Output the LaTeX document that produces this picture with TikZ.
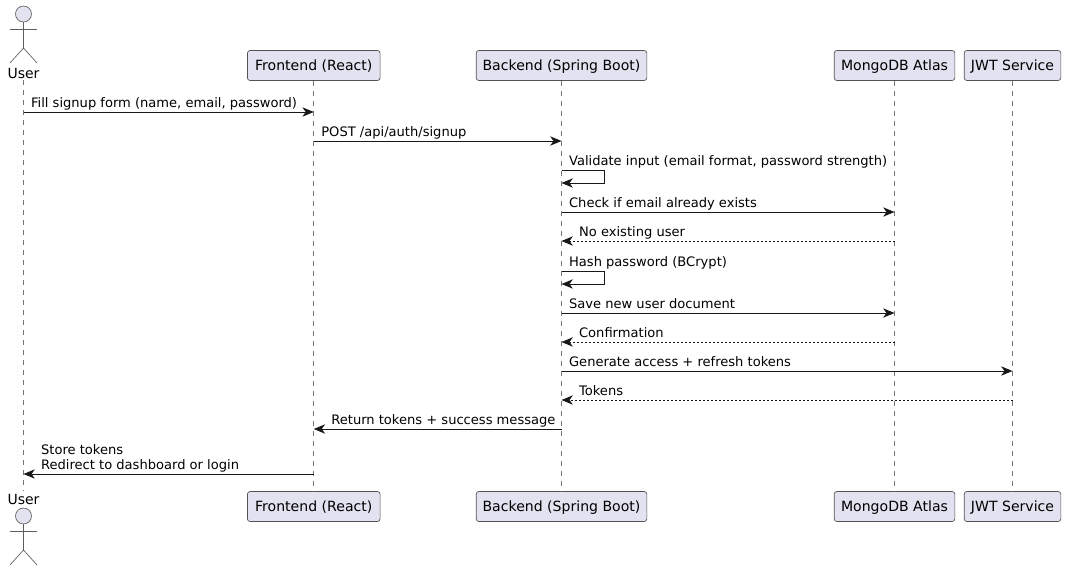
\documentclass[tikz,border=0pt]{standalone}
\usepackage{fontspec}
\setmainfont{DejaVu Sans}
\usetikzlibrary{arrows.meta}
\definecolor{partfill}{HTML}{E2E2F0}
\definecolor{partline}{HTML}{181818}
\tikzset{
  part/.style={draw=partline!75!white,fill=partfill,line width=.5pt,rounded corners=2pt,minimum height=22.5pt,inner sep=0pt,text height=8pt,text depth=1pt,font=\fontsize{10.55pt}{12pt}\selectfont},
  actorlabel/.style={inner sep=0pt,font=\fontsize{10.5pt}{12pt}\selectfont},
  life/.style={draw=partline!60!white,line width=.5pt,dash pattern=on 3.75pt off 3.75pt},
  msg/.style={draw=partline,line width=.7pt,-{Stealth[length=8.5pt,width=7pt,inset=2.5pt]}},
  reply/.style={msg,dash pattern=on 1.5pt off 1.5pt},
  msglabel/.style={anchor=base west,inner sep=0pt,xshift=5.5pt,font=\fontsize{9.8pt}{11.25pt}\selectfont},
  stick/.style={draw=partline!70!white,line width=.5pt}
}
\begin{document}
\begin{tikzpicture}[x=.75pt,y=-.75pt]
	\useasboundingbox (0,0) rectangle (1066,571);
	% lifelines
	\coordinate (usertop) at (23.5,80);
	\coordinate (userbot) at (23.5,491);
	\node[part,minimum width=99.5pt] (fronttop) at (313.75,65.5) {Frontend (React)};
	\node[part,minimum width=99.5pt] (frontbot) at (313.75,506.5) {Frontend (React)};
	\node[part,minimum width=128pt] (backtop) at (561.5,65.5) {Backend (Spring Boot)};
	\node[part,minimum width=128pt] (backbot) at (561.5,506.5) {Backend (Spring Boot)};
	\node[part,minimum width=90.5pt] (mongotop) at (894.5,65.5) {MongoDB Atlas};
	\node[part,minimum width=90.5pt] (mongobot) at (894.5,506.5) {MongoDB Atlas};
	\node[part,minimum width=72.5pt] (jwttop) at (1012.5,65.5) {JWT Service};
	\node[part,minimum width=72.5pt] (jwtbot) at (1012.5,506.5) {JWT Service};
	\draw[life] (usertop) -- (userbot);
	\draw[life] (fronttop) -- (frontbot);
	\draw[life] (backtop) -- (backbot);
	\draw[life] (mongotop) -- (mongobot);
	\draw[life] (jwttop) -- (jwtbot);
	% actors
	\foreach \ya/\yl in {14/73,516/499}{
		\draw[stick,fill=partfill] (23.5,\ya) circle (6pt);
		\draw[stick] (23.5,\ya+8) -- (23.5,\ya+34) (10,\ya+15) -- (37,\ya+15);
		\draw[stick] (10,\ya+49) -- (23.5,\ya+34) -- (37,\ya+49);
		\node[actorlabel] (user\ya) at (23.5,\yl) {User};
	}
	% rows
	\coordinate (r1) at (0,112);
	\coordinate (r2) at (0,141);
	\coordinate (r3) at (0,170);
	\coordinate (r3b) at (0,183);
	\coordinate (r4) at (0,212);
	\coordinate (r5) at (0,241);
	\coordinate (r6) at (0,271);
	\coordinate (r6b) at (0,284);
	\coordinate (r7) at (0,313);
	\coordinate (r8) at (0,342);
	\coordinate (r9) at (0,371);
	\coordinate (r10) at (0,400);
	\coordinate (r11) at (0,429);
	\coordinate (r12) at (0,474);
	% messages
	\draw[msg] (usertop |- r1) -- (fronttop |- r1);
	\node[msglabel] (t1) at ([yshift=3.4pt]usertop |- r1) {Fill signup form (name, email, password)};
	\draw[msg] (fronttop |- r2) -- (backtop |- r2);
	\node[msglabel] (t2) at ([yshift=3.4pt]fronttop |- r2) {POST /api/auth/signup};
	\draw[msg] (backtop |- r3) -| ([xshift=32pt]backtop |- r3b) -- (backtop |- r3b);
	\node[msglabel] (t3) at ([yshift=3.4pt]backtop |- r3) {Validate input (email format, password strength)};
	\draw[msg] (backtop |- r4) -- (mongotop |- r4);
	\node[msglabel] (t4) at ([yshift=3.4pt]backtop |- r4) {Check if email already exists};
	\draw[reply] (mongotop |- r5) -- (backtop |- r5);
	\node[msglabel,xshift=7.5pt] (t5) at ([yshift=3.4pt]backtop |- r5) {No existing user};
	\draw[msg] (backtop |- r6) -| ([xshift=32pt]backtop |- r6b) -- (backtop |- r6b);
	\node[msglabel] (t6) at ([yshift=3.4pt]backtop |- r6) {Hash password (BCrypt)};
	\draw[msg] (backtop |- r7) -- (mongotop |- r7);
	\node[msglabel] (t7) at ([yshift=3.4pt]backtop |- r7) {Save new user document};
	\draw[reply] (mongotop |- r8) -- (backtop |- r8);
	\node[msglabel,xshift=7.5pt] (t8) at ([yshift=3.4pt]backtop |- r8) {Confirmation};
	\draw[msg] (backtop |- r9) -- (jwttop |- r9);
	\node[msglabel] (t9) at ([yshift=3.4pt]backtop |- r9) {Generate access + refresh tokens};
	\draw[reply] (jwttop |- r10) -- (backtop |- r10);
	\node[msglabel,xshift=7.5pt] (t10) at ([yshift=3.4pt]backtop |- r10) {Tokens};
	\draw[msg] (backtop |- r11) -- (fronttop |- r11);
	\node[msglabel,xshift=7.5pt] (t11) at ([yshift=3.4pt]fronttop |- r11) {Return tokens + success message};
	\draw[msg] (fronttop |- r12) -- (usertop |- r12);
	\node[msglabel,xshift=7.5pt] (t12a) at ([yshift=14.7pt]usertop |- r12) {Store tokens};
	\node[msglabel,xshift=7.5pt] (t12b) at ([yshift=3.4pt]usertop |- r12) {Redirect to dashboard or login};
\end{tikzpicture}
\end{document}
